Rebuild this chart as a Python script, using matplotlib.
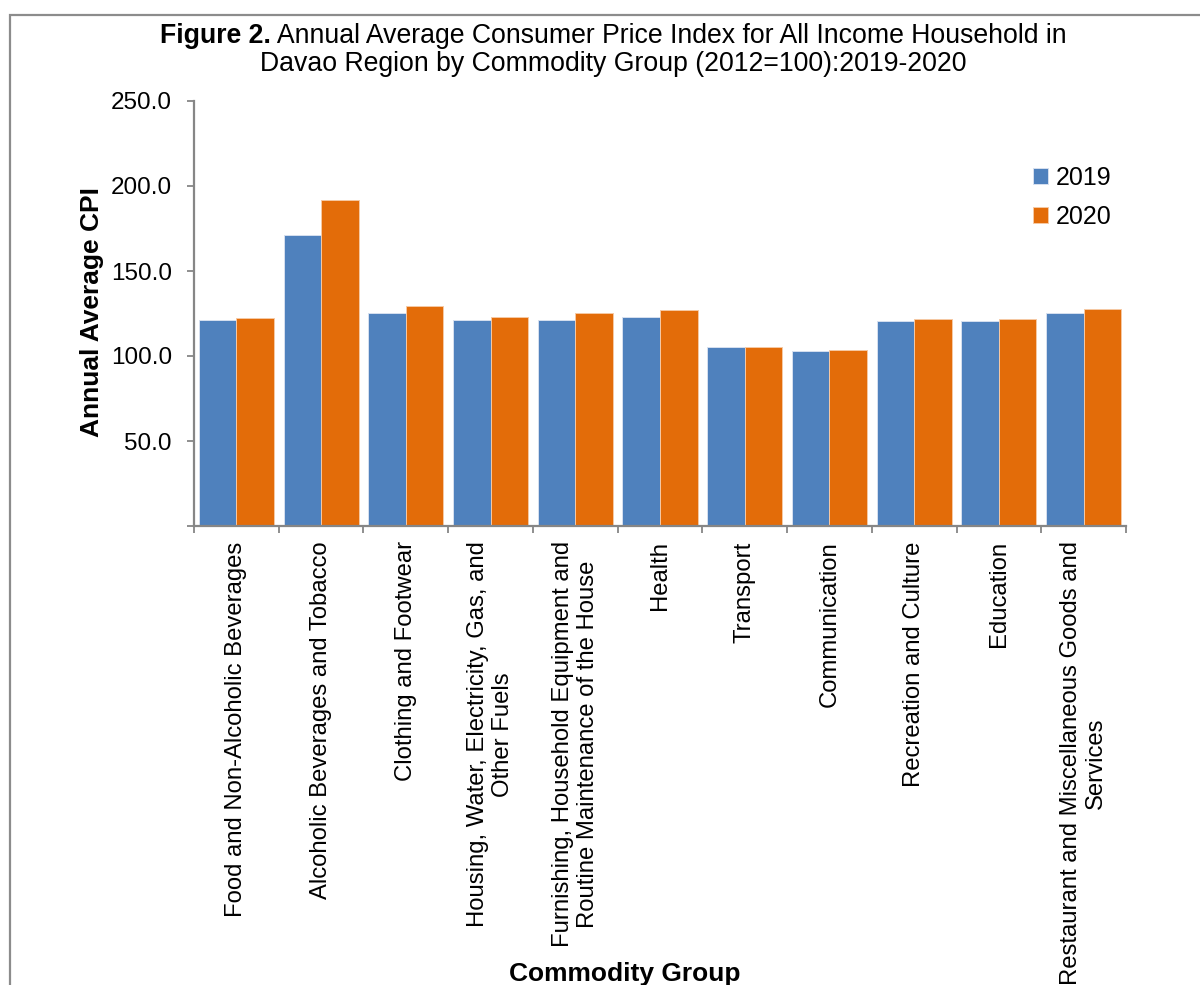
import matplotlib
matplotlib.use("Agg")
import matplotlib.pyplot as plt
import numpy as np
from matplotlib.patches import Rectangle

plt.rcParams['font.family'] = ['Liberation Sans', 'DejaVu Sans']

categories = [
    "Food and Non-Alcoholic Beverages",
    "Alcoholic Beverages and Tobacco",
    "Clothing and Footwear",
    "Housing, Water, Electricity, Gas, and\nOther Fuels",
    "Furnishing, Household Equipment and\nRoutine Maintenance of the House",
    "Health",
    "Transport",
    "Communication",
    "Recreation and Culture",
    "Education",
    "Restaurant and Miscellaneous Goods and\nServices",
]
cpi_2019 = [120.9, 171.2, 125.4, 120.9, 120.9, 122.9, 105.1, 102.7, 120.7, 120.3, 125.0]
cpi_2020 = [122.5, 191.9, 129.5, 122.9, 125.4, 127.0, 105.1, 103.3, 121.9, 121.9, 127.8]
series_names = ["2019", "2020"]
yticks = [0, 50, 100, 150, 200, 250]

W, H = 1200, 985
fig = plt.figure(figsize=(W / 100, H / 100), dpi=100)

# outer border
fig.add_artist(Rectangle((10 / W, -0.05), 1.2, 1 - 15 / H + 0.05, transform=fig.transFigure,
                         fill=False, edgecolor='#8c8c8c', linewidth=1.6))

ax = fig.add_axes([194 / W, 1 - 526 / H, (1126 - 194) / W, (526 - 101) / H])
x = np.arange(len(categories))
bw = 0.443
ax.bar(x - bw / 2, cpi_2019, bw, color='#4F81BD', edgecolor='#d6e0ef', linewidth=0.7, label=series_names[0])
ax.bar(x + bw / 2, cpi_2020, bw, color='#E36C09', edgecolor='#f6c9a4', linewidth=0.7, label=series_names[1])

ax.set_xlim(-0.5, len(categories) - 0.5)
ax.set_ylim(0, 250)
ax.set_yticks(yticks)
ax.set_yticklabels(['' if v == 0 else f"{v:.1f}" for v in yticks], fontsize=17.5)
ax.set_xticks(x)
ax.set_xticklabels(categories, rotation=90, fontsize=17.2, ha='center', va='top',
                   multialignment='center')
ax.set_xticks(np.arange(-0.5, len(categories)), minor=True)
ax.tick_params(axis='x', which='major', length=0, pad=11)
ax.tick_params(axis='x', which='minor', length=5, width=1.3, color='#868686', direction='out')
ax.tick_params(axis='y', length=5, width=1.3, color='#868686', direction='out', pad=11)

for s in ['top', 'right']:
    ax.spines[s].set_visible(False)
for s in ['left', 'bottom']:
    ax.spines[s].set_color('#868686')
    ax.spines[s].set_linewidth(1.6)

leg = ax.legend(loc='upper left', bbox_to_anchor=(1033 / W, 1 - 166 / H), bbox_transform=fig.transFigure,
                frameon=False, fontsize=18, handlelength=0.6, handleheight=0.6,
                handletextpad=0.3, labelspacing=0.6, borderpad=0, borderaxespad=0)

# axis titles
fig.text(92 / W, 1 - 312 / H, "Annual Average CPI", rotation=90, fontsize=19, fontweight='bold',
         ha='center', va='center')
fig.text(625 / W, 1 - 974 / H, "Commodity Group", fontsize=19, fontweight='bold',
         ha='center', va='center')

# title with mixed weights
renderer = fig.canvas.get_renderer()
tfs = 19.2
cx = 613 / W
y1 = 1 - 36 / H
tb = fig.text(0, y1, "Figure 2.", fontsize=tfs, fontweight='bold', ha='left', va='center')
tn = fig.text(0, y1, " Annual Average Consumer Price Index for All Income Household in",
              fontsize=tfs, ha='left', va='center')
wb = tb.get_window_extent(renderer).width
wn = tn.get_window_extent(renderer).width
start = cx * W - (wb + wn) / 2
tb.set_x(start / W)
tn.set_x((start + wb) / W)
fig.text(cx, 1 - 64 / H, "Davao Region by Commodity Group (2012=100):2019-2020", fontsize=tfs,
         ha='center', va='center')

fig.savefig("out.png", dpi=100)
